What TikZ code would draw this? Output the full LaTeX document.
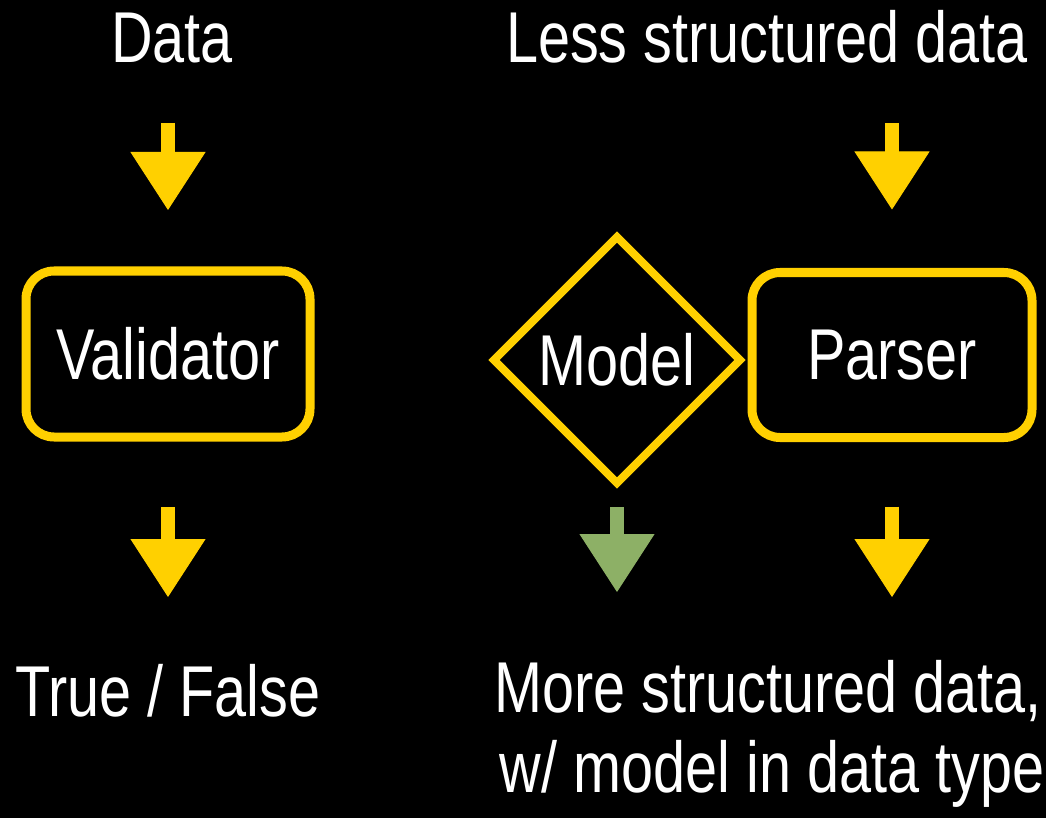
\documentclass[tikz,border=0pt]{standalone}
\usepackage{fontspec}
\setmainfont{Liberation Sans}[FakeStretch=0.8]
\usetikzlibrary{arrows.meta,shapes.geometric}
\definecolor{ylw}{HTML}{FFD000}
\definecolor{grn}{HTML}{8DB066}
\begin{document}
\begin{tikzpicture}[x=1pt,y=-1pt,
  txt/.style={text=white,font=\fontsize{72}{80}\selectfont,inner sep=0pt,anchor=base},
  boxnode/.style={draw=ylw,line width=9pt,rounded corners=28pt,outer sep=0pt,inner sep=0pt,
    text=white,font=\fontsize{72}{80}\selectfont},
  diamnode/.style={shape=diamond,draw=ylw,line width=8pt,outer sep=0pt,inner sep=0pt,
    minimum width=246pt,minimum height=246pt,text=white,font=\fontsize{72}{80}\selectfont},
  arr/.style={draw=#1,line width=14pt,-{Triangle[width=75pt,length=58pt,line width=1pt]}},
  arr/.default=ylw]
\fill[black] (0,0) rectangle (1046,818);
\useasboundingbox (0,0) rectangle (1046,818);

% top texts
\node[txt] (data) at (172,63) {Data};
\node[txt] (less) at (767,63) {Less structured data};

% boxes
\node[boxnode,minimum width=284pt,minimum height=166pt] (validator) at (168,354) {Validator};
\node[diamnode] (model) at (617,360) {Model};
\node[boxnode,minimum width=280pt,minimum height=165pt] (parser) at (892,355) {Parser};

% bottom texts
\node[txt] (tf) at (168,716) {True / False};
\node[txt] (more) at (768,712) {More structured data,};
\node[txt] (more2) at (772,792) {w/ model in data type};

% arrows
\draw[arr,shorten <=60pt,shorten >=61pt] (validator.north |- data.base) -- (validator.north);
\draw[arr,shorten <=60pt,shorten >=63pt] (parser.north |- less.base) -- (parser.north);
\draw[arr,shorten <=70pt,shorten >=119pt] (validator.south) -- (validator.south |- tf.base);
\draw[arr=grn,shorten <=24pt,shorten >=120pt] (model.south) -- (model.south |- more.base);
\draw[arr,shorten <=69pt,shorten >=115pt] (parser.south) -- (parser.south |- more.base);
\end{tikzpicture}
\end{document}
